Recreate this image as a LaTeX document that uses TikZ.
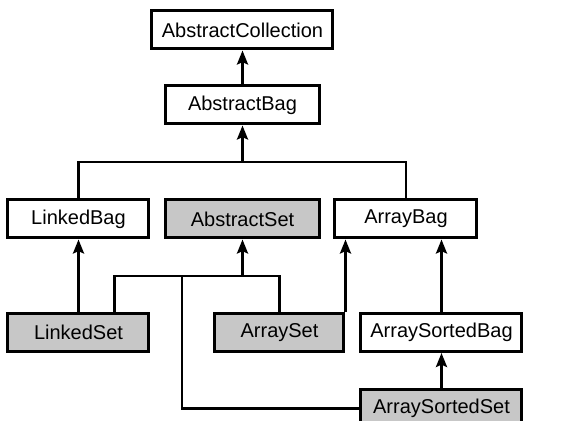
\documentclass[tikz,border=0pt]{standalone}
\usepackage{fontspec}
\setmainfont{Liberation Sans}
\usetikzlibrary{arrows.meta,calc}
\definecolor{setgray}{gray}{0.78}

\begin{document}
\begin{tikzpicture}[
  x=0.5pt, y=-0.5pt,
  font=\fontsize{10}{12}\selectfont,
  cls/.style={draw=black, line width=1.5pt, fill=white, inner sep=0pt,
              minimum height=19pt},
  setcls/.style={cls, fill=setgray},
  arr/.style={-{Stealth[length=7pt,width=5.5pt,inset=1.2pt]}, line width=1.4pt},
  lnk/.style={line width=1.4pt},
]
\useasboundingbox (0,0) rectangle (570,421);

% ======================= classes =======================
\node[cls, minimum width=90.5pt] (coll) at (242.5,30) {AbstractCollection};
\node[cls, minimum width=77pt] (abag) at (242.5,105) {AbstractBag};

\node[cls, minimum width=70.5pt] (lbag) at (78.5,219) {LinkedBag};
\node[setcls, minimum width=77pt] (aset) at (242.5,219) {AbstractSet};
\node[cls, minimum width=71pt] (arbag) at (406,219) {ArrayBag};

\node[setcls, minimum width=70.5pt] (lset) at (78.5,332.5) {LinkedSet};
\node[setcls, minimum width=64.5pt] (arset) at (279.5,332.5) {ArraySet};
\node[cls, minimum width=80.5pt] (sbag) at (441.5,332.5) {ArraySortedBag};
\node[setcls, minimum width=80.5pt] (sset) at (441.5,408.5) {ArraySortedSet};

% junction points
\coordinate (hubA) at (242.5,162);
\coordinate (hubB) at (242.5,276);
\coordinate (tap) at (182,276);

% ======================= edges =======================
\draw[arr] (abag.north) -- (coll.south);

% bag implementations up to AbstractBag
\draw[lnk] (lbag.north) |- (hubA) -| (arbag.north);
\draw[arr] (hubA) -- (abag.south);

% set implementations up to AbstractSet
\draw[lnk] ($(lset.north)!0.5!(lset.north east)$) |- (hubB) -| (arset.north);
\draw[lnk] (sset.west) -| (tap);
\draw[arr] (hubB) -- (aset.south);

% set -> bag inheritance
\draw[arr] (lset.north) -- (lbag.south);
\draw[arr] (arset.north east) -- (arset.north east |- arbag.south);
\draw[arr] (sbag.north) -- (sbag.north |- arbag.south);
\draw[arr] (sset.north) -- (sbag.south);
\end{tikzpicture}
\end{document}
